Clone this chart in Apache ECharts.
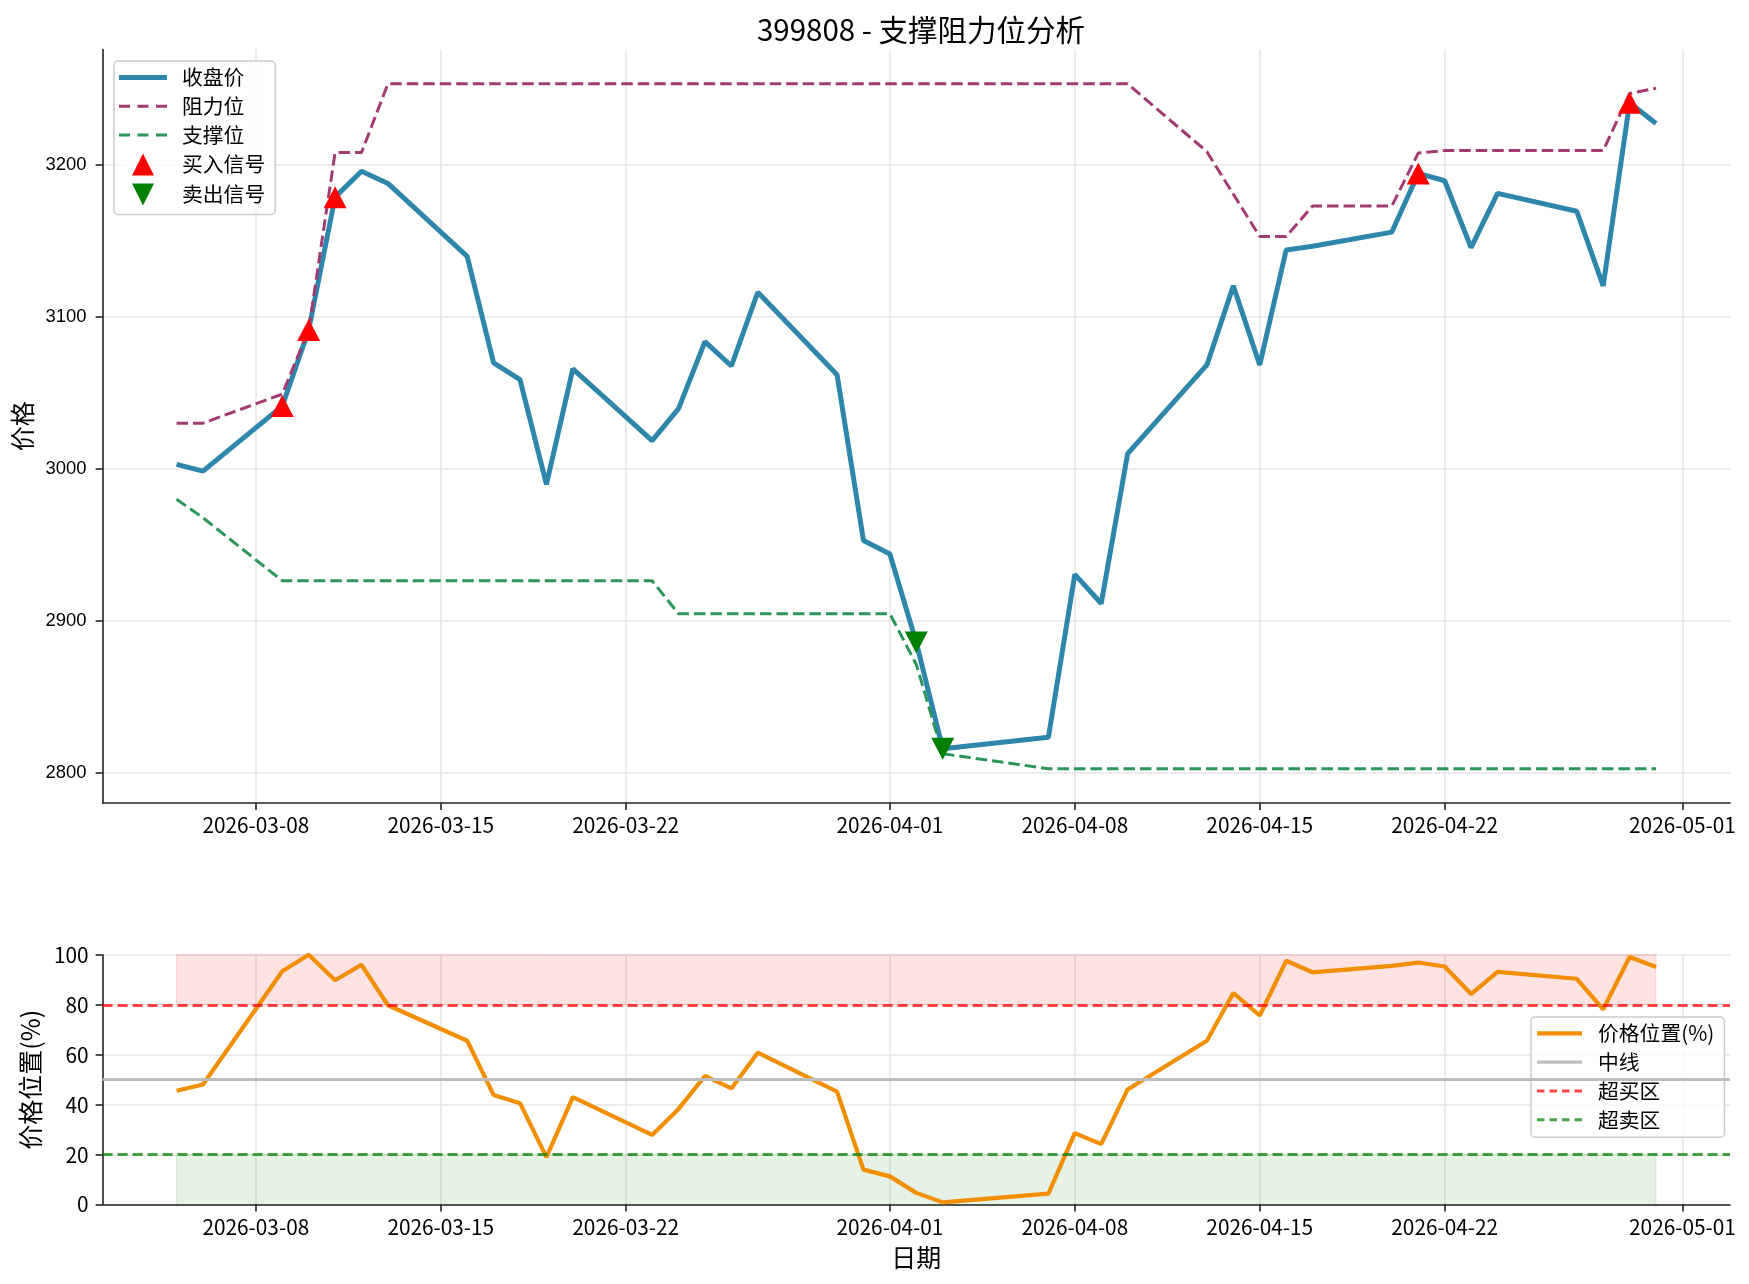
<!DOCTYPE html>
<html lang="zh-CN">
<head>
<meta charset="utf-8">
<title>399808 - 支撑阻力位分析</title>
<script src="https://cdn.jsdelivr.net/npm/echarts@6/dist/echarts.min.js"></script>
<style>
  html,body{margin:0;padding:0;background:#fff;}
  #chart{width:1749px;height:1284px;}
</style>
</head>
<body>
<div id="chart"></div>
<script>
// 交易日
const dates = [
  '2026-03-05','2026-03-06','2026-03-09','2026-03-10','2026-03-11','2026-03-12','2026-03-13',
  '2026-03-16','2026-03-17','2026-03-18','2026-03-19','2026-03-20',
  '2026-03-23','2026-03-24','2026-03-25','2026-03-26','2026-03-27',
  '2026-03-30','2026-03-31','2026-04-01','2026-04-02','2026-04-03',
  '2026-04-07','2026-04-08','2026-04-09','2026-04-10',
  '2026-04-13','2026-04-14','2026-04-15','2026-04-16','2026-04-17',
  '2026-04-20','2026-04-21','2026-04-22','2026-04-23','2026-04-24',
  '2026-04-27','2026-04-28','2026-04-29','2026-04-30'
];
const closePrices = [
  3003.2,2998.7,3041.5,3091.5,3179.0,3196.0,3188.0,
  3140.0,3070.0,3059.0,2990.0,3066.0,
  3018.8,3039.9,3083.9,3067.9,3116.4,
  3062.2,2953.1,2944.2,2886.0,2816.0,
  2823.6,2930.8,2911.6,3010.2,
  3068.6,3120.6,3068.6,3144.2,3146.7,
  3156.0,3194.6,3189.8,3145.8,3181.5,
  3169.7,3120.6,3241.1,3227.4
];
const resistance = [
  3030.3,3030.3,3049.4,3091.5,3208.3,3208.3,3253.6,
  3253.6,3253.6,3253.6,3253.6,3253.6,
  3253.6,3253.6,3253.6,3253.6,3253.6,
  3253.6,3253.6,3253.6,3253.6,3253.6,
  3253.6,3253.6,3253.6,3253.6,
  3208.9,3181.0,3153.1,3153.1,3173.2,
  3173.2,3208.0,3209.6,3209.6,3209.6,
  3209.6,3209.6,3247.2,3250.7
];
const support = [
  2980.2,2968.0,2926.6,2926.6,2926.6,2926.6,2926.6,
  2926.6,2926.6,2926.6,2926.6,2926.6,
  2926.6,2904.9,2904.9,2904.9,2904.9,
  2904.9,2904.9,2904.9,2871.5,2812.8,
  2802.9,2802.9,2802.9,2802.9,
  2802.9,2802.9,2802.9,2802.9,2802.9,
  2802.9,2802.9,2802.9,2802.9,2802.9,
  2802.9,2802.9,2802.9,2802.9
];
const pricePosition = [
  45.6,48.1,93.4,100.0,89.8,96.0,79.8,
  65.6,43.9,40.6,19.0,43.0,
  27.9,38.3,51.5,46.5,60.8,
  45.2,14.0,11.3,4.7,0.9,
  4.4,28.6,24.2,46.1,
  65.6,84.7,75.7,97.6,93.0,
  95.6,96.9,95.3,84.3,93.2,
  90.4,78.2,99.1,95.1
];
const buyDates = ['2026-03-09','2026-03-10','2026-03-11','2026-04-21','2026-04-29'];
const sellDates = ['2026-04-02','2026-04-03'];
const dateTicks = ['2026-03-08','2026-03-15','2026-03-22','2026-04-01','2026-04-08','2026-04-15','2026-04-22','2026-05-01'];
const priceTicks = [2800,2900,3000,3100,3200];
const positionTicks = [0,20,40,60,80,100];
const MIDLINE = 50, OVERBOUGHT = 80, OVERSOLD = 20;

(function(){
  const DAY = 86400000;
  const CJK = '"Noto Sans CJK SC", sans-serif';
  const dayNum = s => Date.UTC(+s.slice(0,4), +s.slice(5,7)-1, +s.slice(8,10)) / DAY;
  const dayStr = v => new Date(Math.round(v)*DAY).toISOString().slice(0,10);
  const pairs = (xs, ys) => xs.map((d,i)=>[dayNum(d), ys[i]]);

  // matplotlib 默认 5% 边距
  const x0 = dayNum(dates[0]), x1 = dayNum(dates[dates.length-1]);
  const xPad = (x1-x0)*0.05;
  const allP = closePrices.concat(resistance, support);
  const pMin = Math.min(...allP), pMax = Math.max(...allP);
  const yPad = (pMax-pMin)*0.05;
  const tickDays = dateTicks.map(dayNum);

  const signal = list => list.map(d=>[dayNum(d), closePrices[dates.indexOf(d)]]);

  // 图例图标：实线 / 虚线
  const solidIcon = (w,h) => `path://M0,0H${w}V${h}H0Z`;
  function dashIcon(n, dash, gap, h){
    let p = 'path://';
    for(let i=0;i<n;i++){ const x=i*(dash+gap); p += `M${x},0H${x+dash}V${h}H${x}Z`; }
    return p;
  }

  const axisLine = {show:true, onZero:false, lineStyle:{color:'#222', width:1.6}};
  const tick = {show:true, length:7, lineStyle:{color:'#222', width:1.6}};
  const grid = {show:true, lineStyle:{color:'#e6e6e6', width:1.6}};

  function dateAxis(gridIndex, name){
    return {
      type:'value', gridIndex, min:x0-xPad, max:x1+xPad,
      name, nameLocation:'middle', nameGap:40,
      nameTextStyle:{fontFamily:CJK, fontSize:25, color:'#000'},
      axisLine, splitLine:grid,
      axisTick:Object.assign({customValues:tickDays}, tick),
      axisLabel:{customValues:tickDays, formatter:dayStr, margin:12, fontFamily:CJK, fontSize:20.8, color:'#000'}
    };
  }

  const hline = (name, value, color, width, type) => ({
    name, type:'line', xAxisIndex:1, yAxisIndex:1, data:[], symbol:'none',
    lineStyle:{color, width, type}, itemStyle:{color},
    markLine:{silent:true, symbol:['none','none'], label:{show:false},
      lineStyle:{color, width, type}, data:[{yAxis:value}]}
  });

  const legendBox = {orient:'vertical', itemHeight:22, itemGap:8,
    borderColor:'#cccccc', borderWidth:1.5, borderRadius:4,
    backgroundColor:'rgba(255,255,255,0.8)', itemStyle:{borderWidth:0}};

  const chart = echarts.init(document.getElementById('chart'));
  chart.setOption({
    animation:false,
    backgroundColor:'#fff',
    title:{text:'399808 - 支撑阻力位分析', left:916, textAlign:'center', top:10,
      textStyle:{fontFamily:CJK, fontSize:29.5, fontWeight:'normal', color:'#000'}},
    grid:[
      {left:102.6, right:19, top:49.5, height:753.5, outerBoundsMode:'none'},
      {left:102.6, right:19, top:954.8, height:249.8, outerBoundsMode:'none'}
    ],
    legend:[
      Object.assign({left:114, top:61, itemWidth:48, padding:[6,10,9,5],
        textStyle:{fontFamily:CJK, fontSize:20.8, color:'#000', padding:[0,0,0,10]},
        data:[
          {name:'收盘价', icon:solidIcon(48,5)},
          {name:'阻力位', icon:dashIcon(3,11,7.5,3)},
          {name:'支撑位', icon:dashIcon(3,11,7.5,3)},
          {name:'买入信号', icon:'path://M0,0L1,2L-1,2Z'},
          {name:'卖出信号', icon:'path://M-1,0L1,0L0,2Z'}]}, legendBox),
      Object.assign({left:1531, top:1017, itemWidth:45, padding:[6,10,7,6],
        textStyle:{fontFamily:CJK, fontSize:20.8, color:'#000', padding:[0,0,0,11]},
        data:[
          {name:'价格位置(%)', icon:solidIcon(45,4.2)},
          {name:'中线', icon:solidIcon(45,3.2)},
          {name:'超买区', icon:dashIcon(4,7.5,5,3)},
          {name:'超卖区', icon:dashIcon(4,7.5,5,3)}]}, legendBox)
    ],
    xAxis:[dateAxis(0,''), dateAxis(1,'日期')],
    yAxis:[
      {type:'value', gridIndex:0, min:pMin-yPad, max:pMax+yPad,
        name:'价格', nameLocation:'middle', nameGap:52,
        nameTextStyle:{fontFamily:CJK, fontSize:25, color:'#000'},
        axisLine, splitLine:grid,
        axisTick:Object.assign({customValues:priceTicks}, tick),
        axisLabel:{customValues:priceTicks, formatter:v=>String(v), margin:16,
          fontFamily:'"Liberation Sans", Arial, sans-serif', fontSize:18.5, color:'#000'}},
      {type:'value', gridIndex:1, min:0, max:100,
        name:'价格位置(%)', nameLocation:'middle', nameGap:49,
        nameTextStyle:{fontFamily:CJK, fontSize:25, color:'#000'},
        axisLine, splitLine:grid,
        axisTick:Object.assign({customValues:positionTicks}, tick),
        axisLabel:{customValues:positionTicks, margin:14, fontFamily:CJK, fontSize:20.8, color:'#000'}}
    ],
    series:[
      {name:'收盘价', type:'line', data:pairs(dates, closePrices), symbol:'none',
        lineStyle:{color:'#2E86AB', width:5}, itemStyle:{color:'#2E86AB'}},
      {name:'阻力位', type:'line', data:pairs(dates, resistance), symbol:'none',
        lineStyle:{color:'#A23B72', width:3, type:[11.5,5]}, itemStyle:{color:'#A23B72'}},
      {name:'支撑位', type:'line', data:pairs(dates, support), symbol:'none',
        lineStyle:{color:'#2B955A', width:3, type:[11.5,5]}, itemStyle:{color:'#2B955A'}},
      {name:'买入信号', type:'scatter', data:signal(buyDates), symbol:'triangle',
        symbolSize:[23,22], itemStyle:{color:'#ff0000', opacity:1}, z:5},
      {name:'卖出信号', type:'scatter', data:signal(sellDates), symbol:'triangle', symbolRotate:180,
        symbolSize:[23,22], itemStyle:{color:'#008000', opacity:1}, z:5},

      {name:'价格位置(%)', type:'line', xAxisIndex:1, yAxisIndex:1, data:pairs(dates, pricePosition),
        symbol:'none', lineStyle:{color:'#F18F01', width:4.2}, itemStyle:{color:'#F18F01'}, z:4,
        markArea:{silent:true, data:[
          [{xAxis:x0, yAxis:OVERBOUGHT, itemStyle:{color:'rgba(255,0,0,0.11)', borderColor:'rgba(255,0,0,0.14)', borderWidth:1}},
           {xAxis:x1, yAxis:100}],
          [{xAxis:x0, yAxis:0, itemStyle:{color:'rgba(0,128,0,0.1)', borderColor:'rgba(0,128,0,0.12)', borderWidth:1}},
           {xAxis:x1, yAxis:OVERSOLD}]
        ]}},
      hline('中线', MIDLINE, '#bdbdbd', 3.2, 'solid'),
      hline('超买区', OVERBOUGHT, 'rgba(255,0,0,0.72)', 3, [10,5]),
      hline('超卖区', OVERSOLD, 'rgba(0,128,0,0.72)', 3, [10,5])
    ]
  });
})();
</script>
</body>
</html>
